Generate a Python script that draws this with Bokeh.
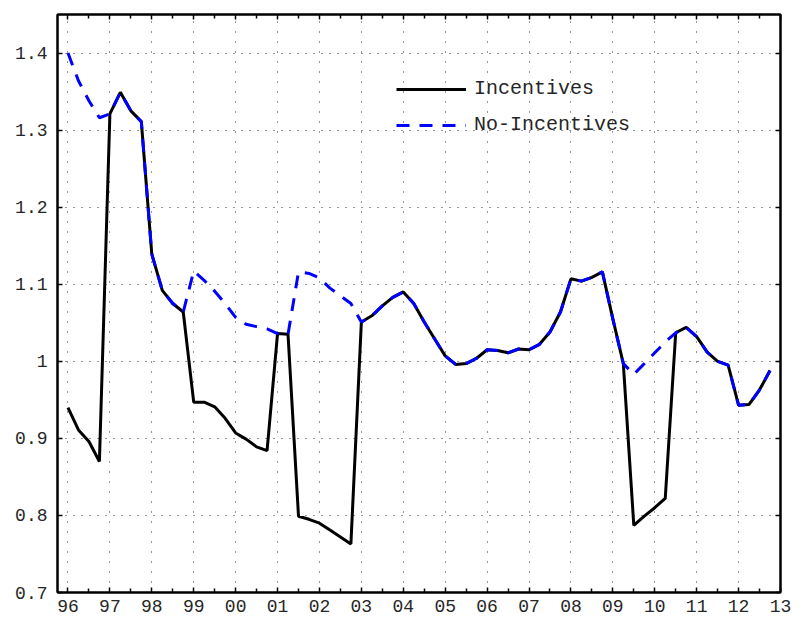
import numpy as np
from bokeh.plotting import figure
from bokeh.models import (FixedTicker, LinearAxis, Legend, LegendItem, Range1d,
                          CustomLabelingPolicy)
from bokeh.embed import file_html
from bokeh.resources import INLINE

# Quarterly data 1996Q1 .. 2012Q4
start_year = 1996
n_quarters = 68
incentives = [
    0.940, 0.911, 0.896, 0.870,
    1.321, 1.349, 1.325, 1.311,
    1.139, 1.092, 1.075, 1.064,
    0.947, 0.947, 0.941, 0.926,
    0.907, 0.899, 0.889, 0.884,
    1.036, 1.035, 0.799, 0.795,
    0.790, 0.781, 0.772, 0.763,
    1.051, 1.059, 1.072, 1.083,
    1.090, 1.075, 1.051, 1.029,
    1.007, 0.996, 0.997, 1.004,
    1.015, 1.014, 1.011, 1.016,
    1.015, 1.022, 1.038, 1.064,
    1.107, 1.104, 1.109, 1.116,
    1.055, 0.997, 0.787, 0.799,
    0.810, 0.822, 1.037, 1.044,
    1.032, 1.012, 1.000, 0.995,
    0.943, 0.944, 0.963, 0.988,
]
no_incentives = [
    1.400, 1.364, 1.338, 1.316,
    1.321, 1.349, 1.325, 1.311,
    1.139, 1.092, 1.075, 1.064,
    1.117, 1.105, 1.091, 1.075,
    1.057, 1.048, 1.045, 1.042,
    1.036, 1.035, 1.116, 1.114,
    1.108, 1.095, 1.085, 1.075,
    1.051, 1.059, 1.072, 1.083,
    1.090, 1.075, 1.051, 1.029,
    1.007, 0.996, 0.997, 1.004,
    1.015, 1.014, 1.011, 1.016,
    1.015, 1.022, 1.038, 1.064,
    1.107, 1.104, 1.109, 1.116,
    1.055, 0.997, 0.983, 0.997,
    1.011, 1.025, 1.037, 1.044,
    1.032, 1.012, 1.000, 0.995,
    0.943, 0.944, 0.963, 0.988,
]
year_ticks = list(range(1996, 2014))
year_labels = ["96", "97", "98", "99", "00", "01", "02", "03", "04", "05",
               "06", "07", "08", "09", "10", "11", "12", "13"]
y_ticks = [0.7, 0.8, 0.9, 1.0, 1.1, 1.2, 1.3, 1.4]
y_labels = ["0.7", "0.8", "0.9", "1", "1.1", "1.2", "1.3", "1.4"]

x = start_year + 0.25 * np.arange(n_quarters)

FONT = "Liberation Mono"
TXT = "#262626"

p = figure(width=798, height=618, output_backend="svg", toolbar_location=None,
           x_range=Range1d(1995.75, 2013.0), y_range=Range1d(0.7, 1.45),
           min_border_left=57, min_border_right=8, min_border_top=14, min_border_bottom=26)
p.outline_line_color = "black"
p.outline_line_width = 2
p.background_fill_color = "white"

xt = FixedTicker(ticks=year_ticks, minor_ticks=[y + 0.5 for y in year_ticks])
yt = FixedTicker(ticks=y_ticks)

hide_labels = CustomLabelingPolicy(code="""
try { indices.clear() } catch (e) { for (const i of Array.from(indices)) indices.unset(i) }
return indices
""")

def style_axis(ax, show_labels):
    ax.axis_line_color = "black"
    ax.axis_line_width = 2
    ax.major_tick_in = 5
    ax.major_tick_out = 0
    ax.major_tick_line_color = "black"
    ax.major_tick_line_width = 1.5
    ax.minor_tick_in = 4
    ax.minor_tick_out = 0
    ax.minor_tick_line_color = "black"
    ax.minor_tick_line_width = 1.5
    if show_labels:
        ax.major_label_text_font = FONT
        ax.major_label_text_font_size = "18px"
        ax.major_label_text_color = TXT
    else:
        ax.major_label_policy = hide_labels
        ax.major_label_standoff = 0

p.xaxis.ticker = xt
p.xaxis.major_label_overrides = {t: l for t, l in zip(year_ticks, year_labels)}
p.xaxis.major_label_standoff = 7
style_axis(p.xaxis[0], True)
p.yaxis.ticker = yt
p.yaxis.major_label_overrides = {t: l for t, l in zip(y_ticks, y_labels)}
p.yaxis.major_label_standoff = 10
style_axis(p.yaxis[0], True)
p.yaxis.minor_tick_in = 0

top = LinearAxis(ticker=xt)
style_axis(top, False)
p.add_layout(top, "above")
right = LinearAxis(ticker=yt)
style_axis(right, False)
right.minor_tick_in = 0
p.add_layout(right, "right")

p.xgrid.ticker = xt
p.ygrid.ticker = yt
p.xgrid.grid_line_color = "#333333"
p.ygrid.grid_line_color = "#333333"
p.xgrid.grid_line_dash = "1 9"
p.ygrid.grid_line_dash = "1 7"
p.xgrid.grid_line_width = 1
p.ygrid.grid_line_width = 1

r1 = p.line(x, incentives, line_color="black", line_width=3)
r2 = p.line(x, no_incentives, line_color="blue", line_width=3, line_dash="13 10")

legend = Legend(items=[LegendItem(label="Incentives", renderers=[r1]),
                       LegendItem(label="No-Incentives", renderers=[r2])],
                location=(339, 456), glyph_width=70, glyph_height=22,
                label_height=22, spacing=13, padding=0, margin=0,
                label_standoff=8, border_line_alpha=0, background_fill_alpha=0,
                label_text_font=FONT, label_text_font_size="20px",
                label_text_color=TXT)
p.add_layout(legend, "center")

open("out.html", "w").write(file_html(p, INLINE))
